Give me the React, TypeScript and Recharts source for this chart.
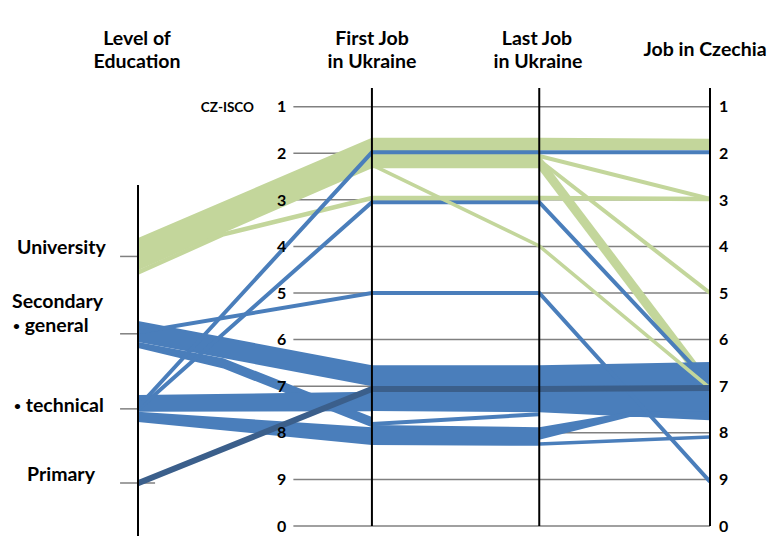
import React from 'react';
import { ComposedChart, Area, Line, XAxis, YAxis, ReferenceLine } from 'recharts';

const FONT = 'Lato, "Open Sans", "DejaVu Sans", sans-serif';
const GREEN = '#c3d69b';
const BLUE = '#4a7ebb';
const DARK = '#3b5f8b';
const GRID = '#808080';

// x positions: the four parallel axes plus two bend rows
const X_POS = [0, 0.5, 1.37, 2.35, 2.88, 3.35];
const AXIS_EDU = 0;
const AXIS_FIRST = 1.37;
const AXIS_LAST = 2.35;
const AXIS_CZ = 3.35;

// CZ-ISCO scale (position 10 is labelled "0")
const ISCO_LEVELS = [1, 2, 3, 4, 5, 6, 7, 8, 9, 10];
const ISCO_LABELS = ['1', '2', '3', '4', '5', '6', '7', '8', '9', '0'];

// education levels placed on the same vertical scale
const EDU_TICK_Y = [4.215, 5.875, 7.486, 9.077];

// bands: [top, bottom] per x row (null = not present)
const gUniFirst2 = [[3.82, 4.51], null, [1.67, 2.32], [1.67, 2.32], null, null];
const gLast2Cz2 = [null, null, null, [1.67, 1.93], null, [1.69, 1.93]];
const gLast2Cz7 = [null, null, null, [2.04, 2.36], null, [6.87, 7.19]];
const bGenFirst7 = [[5.6, 6.05], null, [6.55, 7.0], null, null, null];
const bGenFirst8 = [[6.05, 6.18], [6.4, 6.62], [7.66, 7.88], null, null, null];
const bTechFirst7 = [[7.19, 7.55], null, [7.12, 7.54], null, null, null];
const bTechFirst8 = [[7.55, 7.77], null, [7.88, 8.26], null, null, null];
const bFirst7Last7 = [null, null, [6.55, 7.53], [6.55, 7.56], null, null];
const bFirst8Last8 = [null, null, [7.83, 8.26], [7.88, 8.28], null, null];
const bLast7Cz7 = [null, null, null, [6.55, 7.56], null, [6.48, 7.73]];
const bLast8Cz7 = [null, null, null, [7.88, 8.15], [7.55, 7.66], [7.55, 7.66]];

// thin flows: single value per x row
const gUniFirst3 = [4.56, 3.74, 2.96, 2.96, null, 2.98];
const gFirst2Last4 = [null, null, 2.25, 3.99, null, 7.04];
const gLast2Cz3 = [null, null, null, 2.06, null, 2.98];
const gLast2Cz5 = [null, null, null, 2.15, null, 5.0];
const bTechFirst2 = [7.45, null, 1.98, 1.98, null, 1.98];
const bTechFirst3 = [7.5, null, 3.05, 3.05, null, 6.95];
const bGenFirst5 = [5.84, null, 5.0, 5.0, null, 9.05];
const bFirst8Last7 = [null, null, 7.81, 7.6, null, null];
const bLast8Cz8 = [null, null, null, 8.24, null, 8.09];
const dPrimary = [9.08, null, 7.06, 7.06, null, 7.04];

const AREA_SERIES: [string, any[], string][] = [
  ['gUniFirst2', gUniFirst2, GREEN],
  ['gLast2Cz2', gLast2Cz2, GREEN],
  ['gLast2Cz7', gLast2Cz7, GREEN],
  ['bGenFirst7', bGenFirst7, BLUE],
  ['bGenFirst8', bGenFirst8, BLUE],
  ['bTechFirst7', bTechFirst7, BLUE],
  ['bTechFirst8', bTechFirst8, BLUE],
  ['bFirst7Last7', bFirst7Last7, BLUE],
  ['bFirst8Last8', bFirst8Last8, BLUE],
  ['bLast7Cz7', bLast7Cz7, BLUE],
  ['bLast8Cz7', bLast8Cz7, BLUE],
];

const LINE_SERIES: [string, any[], string, number][] = [
  ['bTechFirst3', bTechFirst3, BLUE, 4],
  ['bGenFirst5', bGenFirst5, BLUE, 4],
  ['bFirst8Last7', bFirst8Last7, BLUE, 4],
  ['bLast8Cz8', bLast8Cz8, BLUE, 3.5],
  ['gUniFirst3', gUniFirst3, GREEN, 4.5],
  ['gFirst2Last4', gFirst2Last4, GREEN, 3.5],
  ['gLast2Cz3', gLast2Cz3, GREEN, 4],
  ['gLast2Cz5', gLast2Cz5, GREEN, 4],
  ['bTechFirst2', bTechFirst2, BLUE, 4],
  ['dPrimary', dPrimary, DARK, 6],
];

const data = X_POS.map((x, i) => {
  const row: any = { x };
  AREA_SERIES.forEach(([k, arr]) => (row[k] = arr[i]));
  LINE_SERIES.forEach(([k, arr]) => (row[k] = arr[i]));
  return row;
});

const txt = { fontFamily: FONT, fontWeight: 700, fill: '#000' } as const;

export default function App() {
  return (
    <div style={{ position: 'absolute', left: 0, top: 0, width: 769, height: 536, background: '#fff', fontFamily: FONT }}>
      <ComposedChart width={769} height={536} data={data} margin={{ top: 88, right: 0, bottom: 10, left: 138 }}>
        <XAxis type="number" dataKey="x" domain={[0, AXIS_CZ]} allowDataOverflow hide />
        <YAxis
          type="number"
          orientation="right"
          domain={[0.6, 10]}
          reversed
          allowDataOverflow
          ticks={ISCO_LEVELS}
          interval={0}
          tickFormatter={(v: number) => ISCO_LABELS[ISCO_LEVELS.indexOf(v)]}
          width={59}
          tickSize={0}
          tickMargin={9}
          tickLine={false}
          axisLine={{ stroke: '#000', strokeWidth: 2 }}
          tick={{ fill: '#000', fontSize: 16, fontWeight: 700, fontFamily: FONT }}
        />
        {ISCO_LEVELS.map((v, i) => (
          <ReferenceLine
            key={'g' + v}
            segment={[{ x: 0.91, y: v }, { x: AXIS_CZ, y: v }]}
            stroke={GRID}
            strokeWidth={1.5}
            ifOverflow="visible"
            zIndex={-10}
            label={{ value: ISCO_LABELS[i], position: 'left', offset: 7, fill: '#000', fontSize: 16, fontWeight: 700, fontFamily: FONT }}
          />
        ))}
        {EDU_TICK_Y.map((v, i) => (
          <ReferenceLine
            key={'e' + i}
            segment={[{ x: -0.105, y: v }, { x: i === 3 ? 0.1 : 0, y: v }]}
            stroke={GRID}
            strokeWidth={1.5}
            ifOverflow="visible"
            zIndex={-10}
          />
        ))}
        {AREA_SERIES.map(([k, , c]) => (
          <Area
            key={k}
            dataKey={k}
            type="linear"
            stroke="none"
            fill={c}
            fillOpacity={1}
            connectNulls
            dot={false}
            activeDot={false}
            isAnimationActive={false}
          />
        ))}
        {LINE_SERIES.map(([k, , c, w]) => (
          <Line
            key={k}
            dataKey={k}
            type="linear"
            stroke={c}
            strokeWidth={w}
            connectNulls
            dot={false}
            activeDot={false}
            isAnimationActive={false}
          />
        ))}
        <ReferenceLine x={AXIS_FIRST} stroke="#000" strokeWidth={2} zIndex={600} />
        <ReferenceLine x={AXIS_LAST} stroke="#000" strokeWidth={2} zIndex={600} />
        <ReferenceLine
          segment={[{ x: AXIS_EDU, y: 2.68 }, { x: AXIS_EDU, y: 10.3 }]}
          stroke="#000"
          strokeWidth={2}
          ifOverflow="visible"
          zIndex={600}
        />
        <g style={{ fontFamily: FONT }}>
          <text x={137} y={45} textAnchor="middle" fontSize={19.5} {...txt}>Level of</text>
          <text x={137} y={68} textAnchor="middle" fontSize={19.5} {...txt}>Education</text>
          <text x={372} y={45} textAnchor="middle" fontSize={19.5} {...txt}>First Job</text>
          <text x={372} y={68} textAnchor="middle" fontSize={19.5} {...txt}>in Ukraine</text>
          <text x={537} y={45} textAnchor="middle" fontSize={19.5} {...txt}>Last Job</text>
          <text x={538} y={68} textAnchor="middle" fontSize={19.5} {...txt}>in Ukraine</text>
          <text x={705} y={56} textAnchor="middle" fontSize={19.5} {...txt}>Job in Czechia</text>
          <text x={254} y={112} textAnchor="end" fontSize={13.5} {...txt}>CZ-ISCO</text>
          <text x={17} y={254} fontSize={19.5} {...txt}>University</text>
          <text x={12} y={308} fontSize={19.5} {...txt}>Secondary</text>
          <text x={13} y={332} fontSize={19.5} {...txt}><tspan fontSize={12} dy={-2}>•</tspan><tspan dy={2}> general</tspan></text>
          <text x={14} y={412} fontSize={19.5} {...txt}><tspan fontSize={12} dy={-2}>•</tspan><tspan dy={2}> technical</tspan></text>
          <text x={27} y={481} fontSize={19.5} {...txt}>Primary</text>
        </g>
      </ComposedChart>
    </div>
  );
}
